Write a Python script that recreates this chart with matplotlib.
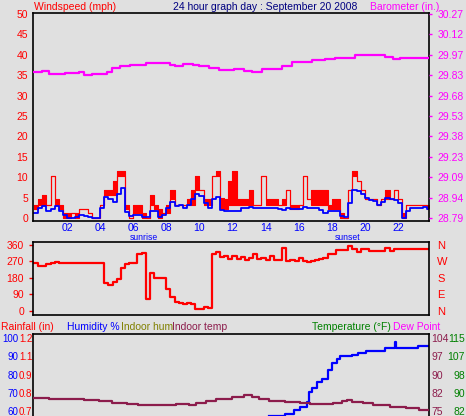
import numpy as np
import matplotlib.pyplot as plt
import matplotlib.transforms as mtransforms

plt.rcParams['font.family'] = ['Liberation Sans', 'DejaVu Sans']
plt.rcParams['font.size'] = 7.5

W, H = 466, 416
BG = '#e0e0e0'
MAROON = '#8c1c4c'
NAVY = '#000080'

# ---- wind, 15 minute bins (mph) ----
gust_hi = [3.3, 4.6, 5.6, 3.3, 10.3, 4.6, 3.3, 1.1, 1.1, 1.1, 1.1, 2.1,
           2.1, 1.1, 0, 0, 3.3, 6.9, 6.9, 9.1, 11.5, 11.5, 3.3, 0,
           3.3, 3.3, 1.1, 0, 5.6, 3.3, 2.1, 1.1, 3.3, 6.9, 3.3, 3.3,
           3.3, 4.6, 6.9, 10.3, 6.9, 4.6, 4.6, 10.3, 11.5, 4.8, 4.6, 9.1,
           11.5, 4.6, 4.6, 4.6, 6.9, 3.3, 3.3, 10.3, 4.6, 4.6, 4.6, 3.3,
           4.6, 6.9, 3.3, 3.3, 3.3, 10.3, 4.6, 6.9, 6.9, 6.9, 6.9, 3.3,
           4.6, 4.6, 1.1, 0, 6.9, 11.5, 9.1, 6.9, 4.6, 4.6, 4.6, 3.3,
           4.6, 6.9, 4.6, 6.9, 4.6, 1.1, 3.3, 3.3, 3.3, 3.3, 3.3, 3.3]
gust_lo = [2.1, 3.3, 3.3, 3.3, 10.3, 3.3, 2.1, 0, 0, 1.1, 0, 2.1,
           2.1, 1.1, 0, 0, 3.3, 5.6, 5.6, 5.6, 10.3, 10.3, 2.1, 0,
           1.1, 1.1, 0, 0, 3.3, 2.1, 0, 1.1, 1.1, 4.6, 3.3, 3.3,
           3.3, 3.3, 3.3, 6.9, 6.9, 3.3, 3.3, 10.3, 10.3, 2.1, 2.1, 3.3,
           3.3, 3.3, 3.3, 3.3, 3.3, 3.3, 3.3, 10.3, 3.3, 3.3, 3.3, 3.3,
           3.3, 6.9, 2.1, 2.1, 3.3, 10.3, 4.6, 3.3, 3.3, 3.3, 3.3, 2.1,
           2.1, 2.1, 0, 0, 6.9, 10.3, 9.1, 6.9, 4.6, 4.6, 4.6, 3.3,
           4.6, 4.6, 4.6, 6.9, 4.6, 0, 3.3, 3.3, 3.3, 3.3, 3.3, 2.1]
wind_avg = [1.3, 2.4, 3.0, 1.6, 2.1, 3.0, 1.6, 0.7, 0, 0, 0.3, 0.7,
            0.5, 0.3, 0, 0, 2.4, 5.2, 4.6, 4.0, 6.0, 7.3, 1.5, 0.5,
            0.7, 0.7, 0.3, 0.3, 1.6, 1.6, 0.3, 0.7, 2.5, 4.0, 3.0, 3.3,
            2.4, 3.3, 4.6, 5.8, 5.5, 3.6, 2.5, 4.6, 5.2, 2.0, 1.7, 1.7,
            1.7, 1.8, 2.5, 2.5, 2.8, 2.4, 2.4, 2.4, 2.4, 2.4, 2.4, 2.2,
            2.0, 2.4, 2.2, 2.2, 2.2, 2.8, 2.4, 2.4, 2.4, 2.0, 1.1, 1.6,
            1.6, 1.8, 0.5, 0.3, 3.6, 6.9, 6.5, 5.8, 4.8, 4.5, 4.2, 3.2,
            4.0, 4.8, 4.6, 4.4, 3.6, 0, 1.6, 2.5, 2.5, 2.5, 2.8, 2.2]
wind_dir = [260, 247, 247, 256, 262, 266, 264, 264, 264, 264, 264, 264,
            264, 264, 264, 264, 264, 155, 140, 158, 172, 236, 256, 264,
            264, 309, 315, 64, 205, 182, 182, 182, 120, 78, 51, 42,
            40, 42, 38, 12, 12, 20, 15, 311, 320, 295, 300, 285,
            300, 285, 295, 280, 290, 310, 285, 290, 278, 300, 278, 280,
            345, 275, 278, 272, 290, 270, 265, 275, 280, 283, 290, 311,
            311, 333, 333, 333, 356, 336, 320, 338, 338, 329, 329, 329,
            329, 342, 329, 338, 338, 338, 338, 338, 338, 338, 338, 338]
t15 = np.arange(len(wind_avg)) * 0.25

# ---- barometer (in.) ----
baro_t = [0.0, 0.5, 0.9, 1.9, 2.7, 3.0, 3.5, 3.9, 4.4, 4.7, 5.2, 5.8, 6.4, 6.8,
          7.6, 8.2, 8.5, 9.0, 9.6, 10.0, 10.6, 11.2, 12.1, 12.7, 13.2, 13.8,
          14.5, 15.0, 15.6, 16.4, 16.8, 17.6, 18.2, 18.8, 19.4, 20.0, 20.6,
          21.2, 21.7, 22.1, 23.8]
baro = [29.851, 29.856, 29.835, 29.844, 29.847, 29.829, 29.837, 29.832,
        29.851, 29.880, 29.894, 29.900, 29.902, 29.914, 29.917, 29.900,
        29.894, 29.907, 29.902, 29.893, 29.876, 29.865, 29.868, 29.858,
        29.852, 29.868, 29.871, 29.891, 29.920, 29.924, 29.936, 29.944,
        29.948, 29.953, 29.970, 29.975, 29.970, 29.960, 29.944, 29.948,
        29.948]

# ---- humidity / indoor temp ----
in_t = [0.0, 0.9, 3.0, 3.9, 4.7, 5.6, 6.3, 8.6, 9.4, 9.8, 10.4, 11.0, 12.0,
        12.7, 13.2, 13.6, 14.2, 15.2, 16.1, 16.7, 17.5, 18.1, 18.6, 18.9,
        19.2, 19.9, 20.5, 21.5, 22.5, 23.3, 23.8]
in_temp = [80.3, 79.8, 79.4, 78.9, 78.3, 77.8, 77.4, 77.7, 77.4, 78.3, 79.0,
           79.6, 80.4, 81.2, 80.7, 79.8, 79.1, 78.7, 78.0, 77.6, 77.8, 78.3,
           79.1, 79.4, 78.7, 78.0, 77.4, 76.7, 76.1, 75.4, 75.4]
hum_t = [14.2, 15.2, 15.7, 16.1, 16.5, 16.6, 16.8, 17.1, 17.4, 17.8, 18.0,
         18.3, 18.5, 19.2, 19.6, 20.1, 21.2, 21.8, 21.9, 23.2, 23.8]
hum = [57.3, 58.4, 60.5, 62.0, 65.1, 70.6, 72.4, 76.0, 77.4, 82.5, 86.5,
       88.3, 90.1, 90.6, 92.0, 93.1, 94.3, 98.0, 94.3, 95.6, 95.6]

hour_ticks = list(range(2, 24, 2))
hour_labels = ['%02d' % h for h in hour_ticks]
sun_events = {'sunrise': 6.63, 'sunset': 18.95}
dir_ticks = [0, 90, 180, 270, 360]
dir_labels = ['N', 'E', 'S', 'W', 'N']
hum_ticks = [60, 70, 80, 90, 100]
rain_ticks = [0.68, 0.81, 0.94, 1.07, 1.2]


def box(left, top, right, bottom):
    return [left / W, 1 - bottom / H, (right - left) / W, (bottom - top) / H]


def fy(y):
    return 1 - y / H


def frame(ax):
    ax.set_facecolor(BG)
    for s in ax.spines.values():
        s.set_color('black')
        s.set_linewidth(1.2)


fig = plt.figure(figsize=(W / 100, H / 100), dpi=100, facecolor=BG)
XLIM = (-0.06, 23.88)

# -------------------------
# Windspeed / barometer
# -------------------------
ax1 = fig.add_axes(box(33, 13, 429, 221))
frame(ax1)
ax1.set_xlim(*XLIM)
ax1.set_ylim(-0.74, 50.25)

te = np.append(t15, 24.0)
hi_e = np.append(gust_hi, gust_hi[-1])
lo_e = np.append(gust_lo, gust_lo[-1])
av_e = np.append(wind_avg, wind_avg[-1])
ax1.fill_between(te, lo_e, hi_e, step='post', color='red', lw=0)
ax1.step(te, hi_e, where='post', color='red', lw=0.8)
ax1.step(te, lo_e, where='post', color='red', lw=0.8)
ax1.step(te, av_e, where='post', color='blue', lw=1.3)

ax1.set_yticks(range(0, 51, 5))
ax1.tick_params(axis='y', colors='red', length=0, pad=3.6)
ax1.set_xticks(hour_ticks, labels=hour_labels)
ax1.tick_params(axis='x', colors='blue', length=0, pad=1.2)

ax1b = ax1.twinx()
ax1b.set_ylim(28.79 - 0.74 * 0.0296, 28.79 + 50.25 * 0.0296)
bt = np.linspace(28.79, 30.27, 11)
ax1b.set_yticks(bt, labels=['%.2f' % v for v in bt])
ax1b.tick_params(axis='y', colors='magenta', length=2.5, width=1, pad=3.6)
ax1b.step(baro_t, baro, where='post', color='magenta', lw=1.6)
for s in ax1b.spines.values():
    s.set_visible(False)

fig.text(34 / W, fy(6.5), 'Windspeed (mph)', color='red', ha='left', va='center')
fig.text(265.5 / W, fy(6.5), '24 hour graph day : September 20 2008',
         color=NAVY, ha='center', va='center')
fig.text(439 / W, fy(6.5), 'Barometer (in.)', color='magenta', ha='right', va='center')

# -------------------------
# Wind direction
# -------------------------
ax2 = fig.add_axes(box(33, 242, 429, 315))
frame(ax2)
ax2.set_xlim(*XLIM)
ax2.set_ylim(-22, 376)
ax2.step(te, np.append(wind_dir, wind_dir[-1]), where='post', color='red', lw=1.6)
ax2.set_xticks([])
ax2.set_yticks(dir_ticks)
ax2.tick_params(axis='y', colors='red', length=3, width=1, pad=3.4)
ax2b = ax2.twinx()
ax2b.set_ylim(-22, 376)
ax2b.set_yticks(dir_ticks, labels=dir_labels)
ax2b.tick_params(axis='y', colors='red', length=0, pad=5.8, labelsize=8)
for s in ax2b.spines.values():
    s.set_visible(False)

trans = mtransforms.blended_transform_factory(ax2.transData, fig.transFigure)
for name, hr in sun_events.items():
    ax2.text(hr, fy(237.2), name, transform=trans, color='blue',
             ha='center', va='center', fontsize=6.2)

# -------------------------
# Humidity / temperature
# -------------------------
ax3 = fig.add_axes(box(33, 334, 429, 440))
frame(ax3)
ax3.set_xlim(*XLIM)
h_lo, h_hi = 44.1, 102.2
ax3.set_ylim(h_lo, h_hi)
ax3.set_xticks([])
ax3.set_yticks(hum_ticks)
ax3.tick_params(axis='y', colors='blue', length=0, pad=10.6, labelsize=7)
ax3.step(hum_t, hum, where='post', color='blue', lw=1.6)

ax3r = ax3.twinx()
ax3r.yaxis.tick_left()
ax3r.set_ylim(1.2 - (100 - h_lo) * 0.013, 1.2 + (h_hi - 100) * 0.013)
ax3r.set_yticks(rain_ticks, labels=['%.1f' % v for v in rain_ticks])
ax3r.tick_params(axis='y', colors='red', length=0, pad=0.5, labelsize=7)

ax3i = ax3.twinx()
k_in = 29 / 40
ax3i.set_ylim(104 - (100 - h_lo) * k_in, 104 + (h_hi - 100) * k_in)
it = np.linspace(75, 104, 5)
ax3i.set_yticks(it, labels=['%.0f' % v for v in it])
ax3i.tick_params(axis='y', colors=MAROON, length=0, pad=1.5)
ax3i.step(in_t, in_temp, where='post', color=MAROON, lw=1.6)

ax3t = ax3.twinx()
k_t = 33 / 40
ax3t.set_ylim(115 - (100 - h_lo) * k_t, 115 + (h_hi - 100) * k_t)
tt = np.linspace(82, 115, 5)
ax3t.set_yticks(tt, labels=['%.0f' % v for v in tt])
ax3t.tick_params(axis='y', colors='green', length=0, pad=25.9)
for lab in ax3t.get_yticklabels():
    lab.set_ha('right')

for a in (ax3r, ax3i, ax3t):
    for s in a.spines.values():
        s.set_visible(False)

headers = [(1, 'Rainfall (in)', 'red'), (67, 'Humidity %', 'blue'),
           (121, 'Indoor hum', 'olive'), (172, 'Indoor temp', MAROON),
           (312, 'Temperature (°F)', 'green'), (393, 'Dew Point', 'magenta')]
for x, txt, col in headers:
    fig.text(x / W, fy(327), txt, color=col, ha='left', va='center')

fig.savefig('out.png', dpi=100, facecolor=BG)
